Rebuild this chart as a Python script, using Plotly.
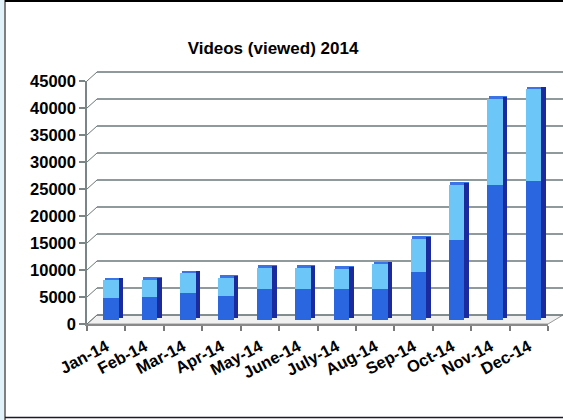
import plotly.graph_objects as go

# Monthly video views, 2014 (two stacked components per month)
months = ["Jan-14", "Feb-14", "Mar-14", "Apr-14", "May-14", "June-14",
          "July-14", "Aug-14", "Sep-14", "Oct-14", "Nov-14", "Dec-14"]
base_views = [4000, 4100, 4900, 4300, 5600, 5600, 5600, 5600, 8800, 14800, 25000, 25600]
total_views = [7300, 7400, 8600, 7700, 9600, 9600, 9400, 10200, 15000, 25000, 40900, 42600]
y_ticks = [0, 5000, 10000, 15000, 20000, 25000, 30000, 35000, 40000, 45000]

extra_views = [t - b for t, b in zip(total_views, base_views)]

W, H = 563, 420
L, R, T, B = 87, 15, 81, 96
PW, PH = W - L - R, H - T - B
YMAX = 45000
UPP = YMAX / PH  # value units per pixel

def px(x):
    return (x - L) / PW

def py(y):
    return (H - B - y) / PH

def shifted(dy):
    # axis range raised by dy pixels (depth effect)
    return [-dy * UPP, YMAX - dy * UPP]

CAT = PW / len(months)  # pixels per category

FRONT_LIGHT = "#6cc6f8"
FRONT_DARK = "#2a66e0"
SIDE = "#1b2a9c"
CAP = "#3b74e6"
GRID = "#6d7878"

fig = go.Figure()

# anchor trace for the labelled value axis (draws nothing)
fig.add_trace(go.Scatter(x=months, y=total_views, yaxis="y", mode="none",
                         hoverinfo="skip", showlegend=False))
# right-hand side faces
fig.add_trace(go.Bar(x=months, y=total_views, base=0, yaxis="y3",
                     width=4.5 / CAT, offset=12.5 / CAT,
                     marker=dict(color=SIDE, line=dict(width=0)),
                     hoverinfo="skip", showlegend=False))
# lower component
fig.add_trace(go.Bar(x=months, y=base_views, base=0, yaxis="y2",
                     width=15.5 / CAT, offset=-3 / CAT,
                     marker=dict(color=FRONT_DARK, line=dict(width=0)),
                     name="base", showlegend=False))
# upper component
fig.add_trace(go.Bar(x=months, y=extra_views, base=base_views, yaxis="y2",
                     width=15.5 / CAT, offset=-3 / CAT,
                     marker=dict(color=FRONT_LIGHT, line=dict(width=0)),
                     name="extra", showlegend=False))
# top faces
fig.add_trace(go.Bar(x=months, y=[2.5 * UPP] * len(months), base=total_views,
                     yaxis="y2", width=18.5 / CAT, offset=-1.5 / CAT,
                     marker=dict(color=CAP, line=dict(width=0)),
                     hoverinfo="skip", showlegend=False))

shapes = []

# floor
floor_path = "M {a},{b} L {c},{b} L {d},{e} L {f},{e} Z".format(
    a=px(L), b=py(H - B), c=px(W - R), d=px(W), e=py(H - B - 9), f=px(L + 10))
shapes.append(dict(type="path", path=floor_path, xref="paper", yref="paper",
                   fillcolor="#f1f1f1", line=dict(color="#9a9a9a", width=1),
                   layer="below"))

# back-wall gridlines and the slanted connectors from the axis ticks
for v in y_ticks:
    yp = py(H - B) + v / YMAX
    yb = yp + 9 / PH
    shapes.append(dict(type="line", xref="paper", yref="paper",
                       x0=px(L + 10), x1=px(W), y0=yb, y1=yb,
                       line=dict(color=GRID, width=1.5), layer="below"))
    shapes.append(dict(type="line", xref="paper", yref="paper",
                       x0=px(L), x1=px(L + 10), y0=yp, y1=yb,
                       line=dict(color=GRID, width=1), layer="below"))

# page frame
shapes.append(dict(type="rect", xref="paper", yref="paper",
                   x0=px(0), x1=px(4), y0=py(H), y1=py(0),
                   fillcolor="#e2f2fa", line=dict(width=0), layer="below"))
shapes.append(dict(type="line", xref="paper", yref="paper",
                   x0=px(5), x1=px(5), y0=py(H), y1=py(0),
                   line=dict(color="#7f7f7f", width=2)))
shapes.append(dict(type="line", xref="paper", yref="paper",
                   x0=px(5), x1=px(W), y0=py(1), y1=py(1),
                   line=dict(color="#000000", width=2)))
shapes.append(dict(type="line", xref="paper", yref="paper",
                   x0=px(5), x1=px(W), y0=py(417.5), y1=py(417.5),
                   line=dict(color="#1a1a2a", width=1.5)))

font_main = "Liberation Sans, Arial, sans-serif"

fig.update_layout(
    width=W, height=H,
    margin=dict(l=L, r=R, t=T, b=B, pad=0),
    paper_bgcolor="white", plot_bgcolor="rgba(0,0,0,0)",
    barmode="overlay",
    bargap=0,
    title=dict(text="<b>Videos (viewed) 2014</b>",
               x=273 / W, xanchor="center", xref="container",
               y=1 - 48 / H, yanchor="middle", yref="container",
               font=dict(family=font_main, size=17, color="#000000")),
    xaxis=dict(type="category", range=[-0.5, len(months) - 0.5],
               showline=True, linecolor="#8a8a8a", linewidth=1.5,
               ticks="outside", tickson="boundaries", ticklen=5,
               tickcolor="#7a7a7a", tickwidth=1.5,
               tickangle=-28, ticklabelstandoff=5, showgrid=False,
               tickfont=dict(family=font_main, size=16.5, color="#000000",
                             weight="bold")),
    yaxis=dict(range=[0, YMAX], tickvals=y_ticks,
               ticktext=[str(v) for v in y_ticks],
               showline=True, linecolor="#7a8585", linewidth=1.5,
               ticks="outside", ticklen=6, tickcolor="#7a8585",
               tickwidth=1.5, showgrid=False, zeroline=False,
               tickfont=dict(family=font_main, size=16.5, color="#000000",
                             weight="bold")),
    yaxis2=dict(range=shifted(4.5), overlaying="y", visible=False),
    yaxis3=dict(range=shifted(6.5), overlaying="y", visible=False),
    shapes=shapes,
)

fig.write_html("out.html")
